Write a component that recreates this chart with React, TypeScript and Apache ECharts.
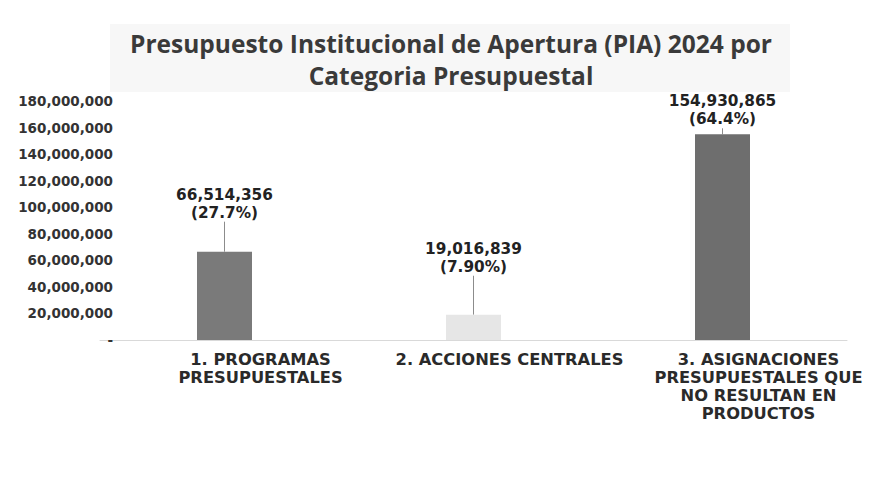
import React, { useEffect, useRef } from "react";
import * as echarts from "echarts";

const categories = [
  "1. PROGRAMAS\nPRESUPUESTALES",
  "2. ACCIONES CENTRALES",
  "3. ASIGNACIONES\nPRESUPUESTALES QUE\nNO RESULTAN EN\nPRODUCTOS",
];
const values = [66514356, 19016839, 154930865];
const percents = ["27.7%", "7.90%", "64.4%"];
const barColors = ["#7a7a7a", "#e6e6e6", "#6e6e6e"];
const labelShift = [-24, -33, 0];

const fmt = (v: number) => v.toLocaleString("en-US");

export default function App() {
  const ref = useRef<HTMLDivElement>(null);
  useEffect(() => {
    if (!ref.current) return;
    const chart = echarts.init(ref.current, null, { renderer: "svg" });
    chart.setOption({
      animation: false,
      backgroundColor: "#ffffff",
      graphic: [
        {
          type: "rect",
          shape: { x: 110, y: 24, width: 680, height: 68 },
          style: { fill: "#f7f7f7" },
          z: -10,
        },
      ],
      title: {
        text: "Presupuesto Institucional de Apertura (PIA) 2024 por\nCategoria Presupuestal",
        left: 446,
        textAlign: "center",
        top: 22,
        textStyle: {
          fontFamily: "Open Sans",
          fontWeight: "bold",
          fontSize: 24.5,
          lineHeight: 32,
          color: "#3a3a3a",
        },
      },
      grid: { left: 100, right: 26, top: 101, bottom: 141 },
      xAxis: {
        type: "category",
        data: categories,
        axisLine: { show: true, lineStyle: { color: "#d9d9d9", width: 1 } },
        axisTick: { show: false },
        axisLabel: {
          interval: 0,
          margin: 10,
          fontFamily: "DejaVu Sans",
          fontWeight: "bold",
          fontSize: 16.3,
          lineHeight: 18,
          color: "#2a2a2a",
          padding: [0, 0, 0, 72],
        },
      },
      yAxis: {
        type: "value",
        min: 0,
        max: 180000000,
        interval: 20000000,
        axisLine: { show: false },
        axisTick: { show: false },
        splitLine: { show: false },
        axisLabel: {
          margin: -13,
          fontFamily: "DejaVu Sans",
          fontWeight: "bold",
          fontSize: 13.5,
          color: "#333333",
          formatter: (v: number) => (v === 0 ? "-" : fmt(v)),
        },
      },
      series: [
        {
          type: "bar",
          barWidth: 55,
          data: values.map((v, i) => ({
            value: v,
            itemStyle: { color: barColors[i] },
          })),
          label: {
            show: true,
            position: "top",
            distance: 6,
            fontFamily: "DejaVu Sans",
            fontWeight: "bold",
            fontSize: 15.3,
            lineHeight: 18,
            color: "#222222",
            formatter: (p: any) => `${fmt(p.value)}\n(${percents[p.dataIndex]})`,
          },
          labelLine: {
            show: true,
            lineStyle: { color: "#8c8c8c", width: 1 },
          },
          labelLayout: (params: any) => ({ dy: labelShift[params.dataIndex] }),
        },
      ],
    });
    return () => chart.dispose();
  }, []);
  return (
    <div
      ref={ref}
      style={{ position: "fixed", left: 0, top: 0, width: 873, height: 481 }}
    />
  );
}
